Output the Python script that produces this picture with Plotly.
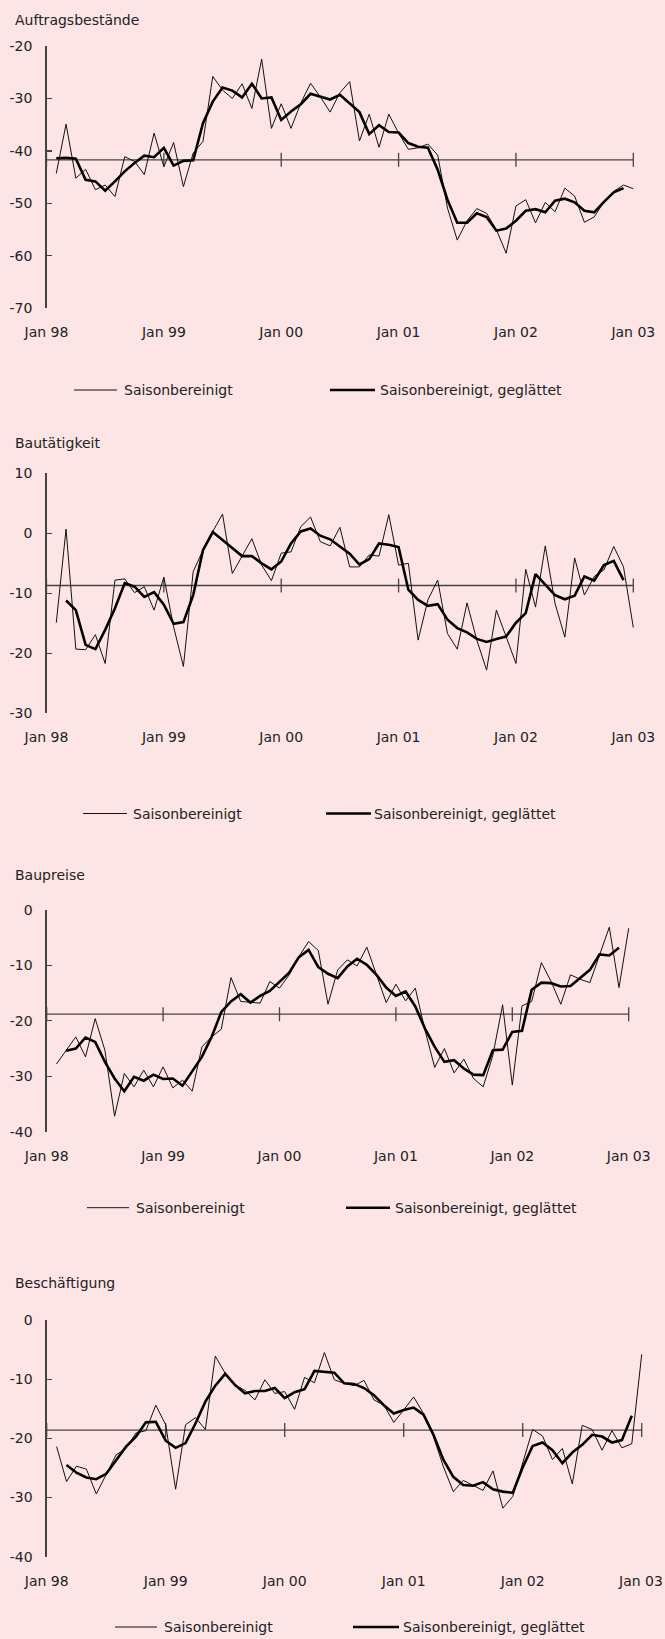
import plotly.graph_objects as go

# ---------------- data ----------------
tick_labels = ["Jan 98", "Jan 99", "Jan 00", "Jan 01", "Jan 02", "Jan 03"]
tick_months = [0, 12, 24, 36, 48, 60]          # month index, 0 = Jan 98
titles = ["Auftragsbestände", "Bautätigkeit", "Baupreise", "Beschäftigung"]
series_names = ["Saisonbereinigt", "Saisonbereinigt, geglättet"]

# seasonally adjusted, Feb 98 .. Jan 03
auftrag_sa = [-44.3, -34.9, -45.2, -43.5, -47.4, -46.5, -48.7, -41.1, -42.0, -44.5, -36.6, -43.0,
              -38.4, -46.8, -40.4, -38.2, -25.8, -28.4, -30.0, -27.2, -31.9, -22.5, -35.7, -31.0,
              -35.7, -30.9, -27.1, -29.7, -32.6, -28.9, -26.8, -38.1, -33.0, -39.3, -33.0, -36.6,
              -39.7, -39.4, -38.7, -40.8, -50.9, -57.0, -53.3, -51.0, -51.9, -55.0, -59.5, -50.5,
              -49.3, -53.7, -49.8, -51.6, -47.1, -48.6, -53.6, -52.6, -49.7, -47.7, -46.5, -47.2]
# smoothed, Feb 98 .. Dec 02
auftrag_sm = [-41.4, -41.3, -41.5, -45.5, -45.8, -47.6, -45.8, -43.9, -42.3, -40.9, -41.2, -39.4,
              -42.8, -41.9, -41.8, -34.7, -30.6, -27.9, -28.5, -29.8, -27.2, -30.0, -29.8, -34.1,
              -32.5, -31.1, -29.1, -29.7, -30.2, -29.3, -31.0, -32.6, -36.8, -35.1, -36.4, -36.5,
              -38.5, -39.2, -39.4, -43.6, -49.3, -53.7, -53.7, -51.9, -52.6, -55.2, -54.8, -53.3,
              -51.4, -51.1, -51.7, -49.5, -49.1, -49.8, -51.4, -51.7, -49.7, -47.9, -47.1]

bau_sa = [-14.9, 0.7, -19.3, -19.4, -16.9, -21.7, -7.8, -7.6, -9.9, -8.9, -12.8, -7.3,
          -15.6, -22.2, -6.4, -2.8, 0.3, 3.2, -6.7, -3.9, -0.9, -5.3, -7.9, -3.3,
          -3.1, 1.1, 2.7, -1.4, -2.1, 1.0, -5.6, -5.6, -3.6, -3.8, 3.1, -5.3,
          -5.0, -17.8, -11.1, -7.8, -16.7, -19.3, -11.6, -17.8, -22.8, -12.8, -17.2, -21.7,
          -6.0, -12.3, -2.1, -11.7, -17.3, -4.1, -10.3, -7.2, -6.1, -2.2, -5.6, -15.7]
# smoothed, Mar 98 .. Dec 02
bau_sm = [-11.2, -12.8, -18.6, -19.3, -16.1, -12.5, -8.3, -8.9, -10.6, -9.8, -11.9,
          -15.1, -14.8, -10.3, -2.8, 0.2, -1.1, -2.5, -3.8, -3.8, -5.0, -6.0, -4.7,
          -1.7, 0.3, 0.8, -0.4, -1.0, -2.2, -3.4, -5.2, -4.3, -1.7, -1.9, -2.3,
          -9.4, -11.1, -12.1, -11.8, -14.4, -15.8, -16.5, -17.6, -18.1, -17.6, -17.2, -14.9,
          -13.3, -6.8, -8.6, -10.3, -11.0, -10.4, -7.2, -7.9, -5.3, -4.6, -7.8]

preis_sa = [-27.8, -25.3, -22.9, -26.5, -19.6, -25.3, -37.2, -29.5, -31.9, -28.9, -31.9, -28.3,
            -32.1, -30.7, -32.7, -24.7, -22.9, -21.5, -12.2, -16.5, -16.7, -16.8, -12.9, -14.1,
            -11.7, -8.4, -5.7, -7.3, -17.0, -10.8, -9.0, -10.1, -6.7, -11.7, -16.7, -13.4,
            -16.4, -14.1, -21.7, -28.4, -25.0, -29.4, -26.9, -30.4, -31.9, -26.2, -17.1, -31.6,
            -17.3, -16.5, -9.5, -12.9, -17.0, -11.7, -12.5, -13.1, -7.9, -3.1, -14.0, -3.3]
preis_sm = [-25.4, -25.0, -23.0, -23.8, -27.4, -30.4, -32.7, -30.1, -30.8, -29.7, -30.5,
            -30.4, -31.7, -29.2, -26.5, -22.9, -18.4, -16.5, -15.2, -16.7, -15.5, -14.6, -12.9,
            -11.3, -8.5, -7.2, -10.3, -11.5, -12.3, -10.2, -8.8, -9.9, -11.7, -14.0, -15.5,
            -14.7, -17.4, -21.4, -24.7, -27.4, -27.1, -28.6, -29.7, -29.8, -25.3, -25.2, -22.0,
            -21.8, -14.4, -13.1, -13.2, -13.8, -13.7, -12.3, -10.8, -8.0, -8.2, -6.8]

besch_sa = [-21.4, -27.3, -24.7, -25.2, -29.4, -26.0, -22.8, -21.7, -19.1, -18.7, -14.4, -17.7,
            -28.6, -17.7, -16.5, -18.5, -6.1, -9.0, -11.0, -11.9, -13.5, -10.1, -12.4, -12.1,
            -15.1, -9.7, -10.6, -5.5, -10.1, -10.7, -11.1, -10.2, -13.5, -14.4, -17.3, -15.2,
            -13.0, -15.8, -19.7, -24.8, -29.0, -27.1, -27.9, -28.8, -25.5, -31.8, -29.8, -24.2,
            -18.5, -19.6, -23.6, -21.7, -27.7, -17.8, -18.5, -22.0, -18.7, -21.6, -20.9, -5.8]
besch_sm = [-24.5, -25.8, -26.6, -26.9, -26.0, -23.8, -21.4, -19.7, -17.3, -17.2, -20.4, -21.6,
            -20.8, -17.5, -13.8, -11.1, -9.1, -11.0, -12.4, -12.0, -12.0, -11.5, -13.2, -12.2,
            -11.7, -8.6, -8.7, -8.9, -10.7, -10.8, -11.5, -12.7, -14.4, -15.8, -15.2, -14.8,
            -16.0, -19.4, -23.6, -26.5, -27.9, -28.0, -27.4, -28.6, -29.0, -29.2, -24.9, -21.3,
            -20.7, -22.0, -24.2, -22.4, -21.1, -19.4, -19.7, -20.7, -20.3, -16.2]

sa_series = [auftrag_sa, bau_sa, preis_sa, besch_sa]
sm_series = [auftrag_sm, bau_sm, preis_sm, besch_sm]
sa_first_month = [1, 1, 1, 1]      # Feb 98
sm_first_month = [1, 2, 2, 2]
axis_cross = [-41.7, -8.7, -18.8, -18.6]   # value where the time axis crosses
y_ranges = [(-70, -20), (-30, 10), (-40, 0), (-40, 0)]
y_step = 10

# ---------------- layout geometry (pixels) ----------------
W, H = 665, 1639
geo = [
    dict(x0=46.5, pxm=9.78, ytop=46.0, ybot=308.3, ty=20, ly=390.0, leg=(74, 117, 122, 330, 375, 378)),
    dict(x0=46.5, pxm=9.78, ytop=473.3, ybot=713.3, ty=443, ly=813.5, leg=(83, 127, 131, 326, 371, 372)),
    dict(x0=46.7, pxm=9.70, ytop=910.0, ybot=1131.7, ty=875, ly=1207.7, leg=(87, 129, 134, 346, 390, 393)),
    dict(x0=46.7, pxm=9.917, ytop=1320.0, ybot=1556.7, ty=1283, ly=1627.0, leg=(115, 157, 162, 353, 399, 401)),
]
FONT = "DejaVu Sans"
FS = 14
TXT = "#222222"
BG = "#FDE5E6"
AX = "#444444"
XMAX = 62

fig = go.Figure()
layout = dict(width=W, height=H, margin=dict(l=0, r=0, t=0, b=0, autoexpand=False),
              paper_bgcolor=BG, plot_bgcolor=BG, showlegend=False, hovermode=False,
              font=dict(family=FONT, size=FS, color=TXT))
shapes, annotations = [], []

for i in range(4):
    g = geo[i]
    sfx = "" if i == 0 else str(i + 1)
    xa, ya = "x" + sfx, "y" + sfx
    lo, hi = y_ranges[i]
    yvals = list(range(lo, hi + 1, y_step))
    xtext = list(tick_labels)
    last_outside = (g["x0"] + g["pxm"] * tick_months[-1]) + 24 > W
    if last_outside:
        xtext[-1] = ""
    layout["xaxis" + sfx] = dict(
        domain=[g["x0"] / W, (g["x0"] + g["pxm"] * XMAX) / W], range=[0, XMAX],
        anchor=ya, tickmode="array", tickvals=tick_months, ticktext=xtext,
        showline=False, showgrid=False, zeroline=False, ticks="", ticklabelstandoff=14,
        automargin=False, fixedrange=True, tickfont=dict(family=FONT, size=FS, color=TXT))
    layout["yaxis" + sfx] = dict(
        domain=[1 - g["ybot"] / H, 1 - g["ytop"] / H], range=[lo, hi],
        anchor=xa, tickmode="array", tickvals=yvals, ticktext=[str(v) for v in yvals],
        showline=True, linecolor=AX, linewidth=1.3,
        ticks="inside", ticklen=5, tickcolor=AX, tickwidth=1.3,
        showgrid=False, zeroline=False, ticklabelstandoff=10, automargin=False, fixedrange=True,
        tickfont=dict(family=FONT, size=FS, color=TXT))

    # crossing time axis with cross ticks
    fig.add_trace(go.Scatter(
        x=tick_months, y=[axis_cross[i]] * len(tick_months), xaxis=xa, yaxis=ya,
        mode="lines+markers", line=dict(color=AX, width=1.3),
        marker=dict(symbol="line-ns-open", size=10, line=dict(color=AX, width=1.3)),
        hoverinfo="skip", cliponaxis=False))

    sa = sa_series[i]
    sm = sm_series[i]
    fig.add_trace(go.Scatter(
        x=list(range(sa_first_month[i], sa_first_month[i] + len(sa))), y=sa,
        xaxis=xa, yaxis=ya, mode="lines", name=series_names[0],
        line=dict(color="#111111", width=1)))
    fig.add_trace(go.Scatter(
        x=list(range(sm_first_month[i], sm_first_month[i] + len(sm))), y=sm,
        xaxis=xa, yaxis=ya, mode="lines", name=series_names[1],
        line=dict(color="#000000", width=2.6)))

    if last_outside:
        # last date label kept inside the page, right-aligned at the edge
        annotations.append(dict(text=tick_labels[-1], x=1, y=1 - (g["ybot"] + 24) / H,
                                xref="paper", yref="paper", xanchor="right", yanchor="middle",
                                showarrow=False, font=dict(family=FONT, size=FS, color=TXT)))

    annotations.append(dict(text=titles[i], x=13 / W, y=1 - g["ty"] / H, xref="paper", yref="paper",
                            xanchor="left", yanchor="middle", showarrow=False,
                            font=dict(family=FONT, size=FS, color=TXT)))

    # legend drawn as layout decoration
    l = g["leg"]
    ly = 1 - g["ly"] / H
    shapes.append(dict(type="line", xref="paper", yref="paper", x0=l[0] / W, x1=l[1] / W,
                       y0=ly, y1=ly, line=dict(color="#111111", width=1)))
    shapes.append(dict(type="line", xref="paper", yref="paper", x0=l[3] / W, x1=l[4] / W,
                       y0=ly, y1=ly, line=dict(color="#000000", width=2.6)))
    annotations.append(dict(text=series_names[0], x=l[2] / W, y=ly, xref="paper", yref="paper",
                            xanchor="left", yanchor="middle", showarrow=False,
                            font=dict(family=FONT, size=FS, color=TXT)))
    annotations.append(dict(text=series_names[1], x=l[5] / W, y=ly, xref="paper", yref="paper",
                            xanchor="left", yanchor="middle", showarrow=False,
                            font=dict(family=FONT, size=FS, color=TXT)))

layout["shapes"] = shapes
layout["annotations"] = annotations
fig.update_layout(**layout)
fig.write_html(
    "out.html",
    config={"displayModeBar": False, "staticPlot": True},
    post_script="document.body.style.margin='0px';document.body.style.padding='0px';"
                "document.documentElement.style.overflow='hidden';",
)
